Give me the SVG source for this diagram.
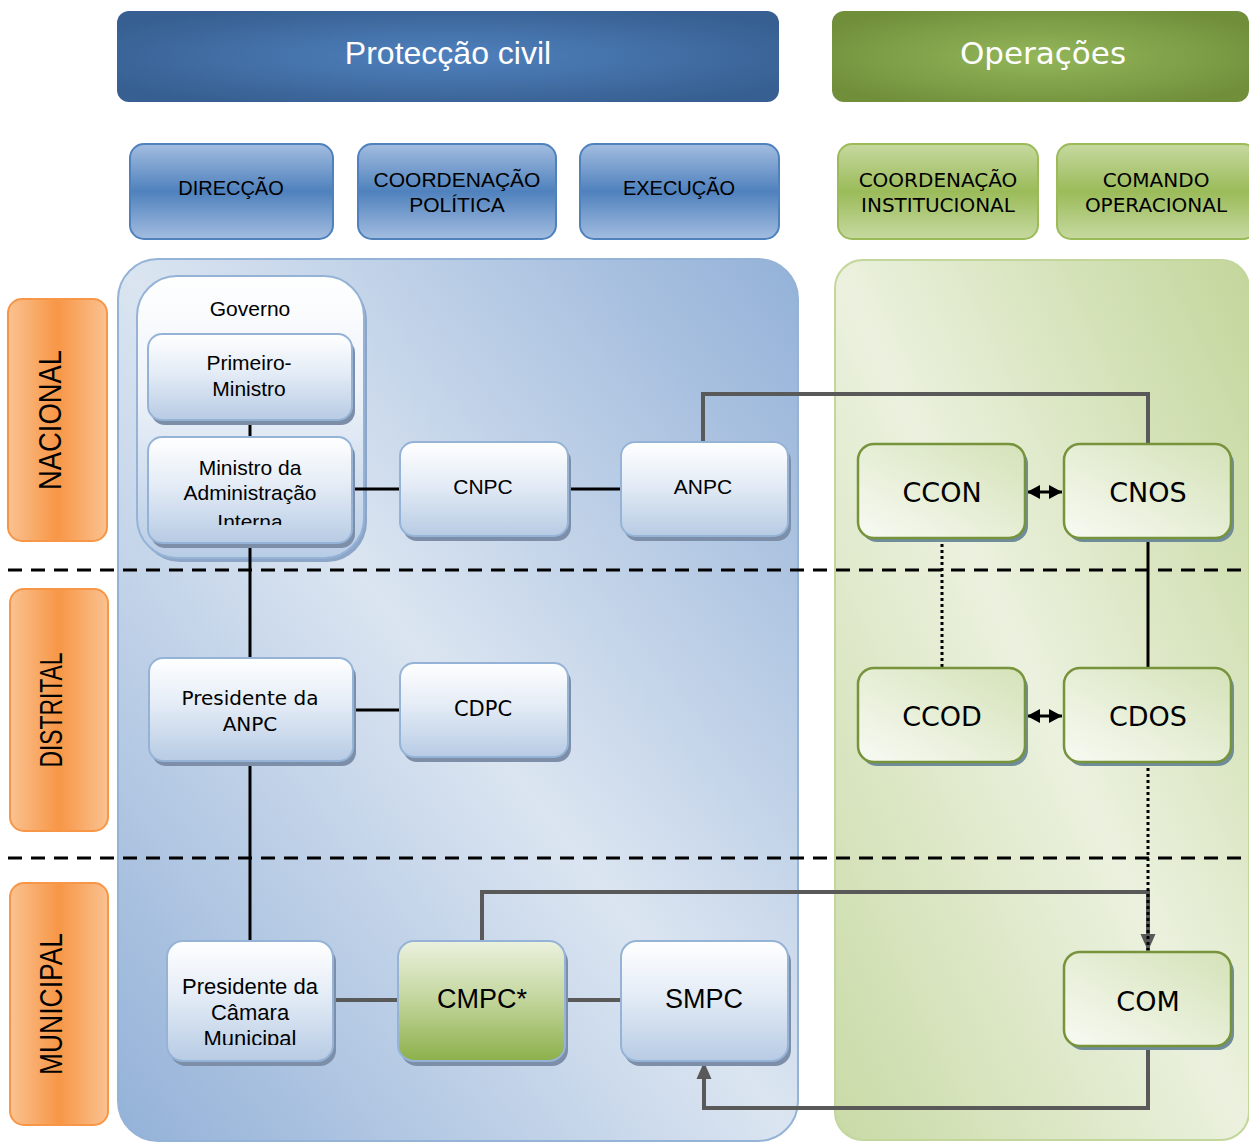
<svg xmlns="http://www.w3.org/2000/svg" width="1249" height="1142" viewBox="0 0 1249 1142">
<defs>
<radialGradient id="gHeadBlue" cx="0.5" cy="0.5" r="0.6">
<stop offset="0" stop-color="#4f81bd"/><stop offset="1" stop-color="#375f91"/>
</radialGradient>
<radialGradient id="gHeadGreen" cx="0.5" cy="0.5" r="0.6">
<stop offset="0" stop-color="#93b65a"/><stop offset="1" stop-color="#718f3b"/>
</radialGradient>
<linearGradient id="gSubBlue" x1="0" y1="0" x2="0" y2="1">
<stop offset="0" stop-color="#a3bde0"/><stop offset="0.5" stop-color="#4f81bd"/><stop offset="1" stop-color="#a3bde0"/>
</linearGradient>
<linearGradient id="gSubGreen" x1="0" y1="0" x2="0" y2="1">
<stop offset="0" stop-color="#c6d9a0"/><stop offset="0.5" stop-color="#9bbb59"/><stop offset="1" stop-color="#c6d9a0"/>
</linearGradient>
<linearGradient id="gOrange" x1="0" y1="0" x2="1" y2="0">
<stop offset="0" stop-color="#fac291"/><stop offset="0.5" stop-color="#f79646"/><stop offset="1" stop-color="#fac291"/>
</linearGradient>
<linearGradient id="gPanelBlue" x1="1" y1="0" x2="0" y2="1">
<stop offset="0" stop-color="#93b1d8"/><stop offset="0.5" stop-color="#dbe5f1"/><stop offset="1" stop-color="#93b1d8"/>
</linearGradient>
<linearGradient id="gPanelGreen" x1="1" y1="0" x2="0" y2="1">
<stop offset="0" stop-color="#c3d69b"/><stop offset="0.5" stop-color="#ebf1de"/><stop offset="1" stop-color="#c9daa6"/>
</linearGradient>
<linearGradient id="gNodeBlue" x1="0" y1="0" x2="0" y2="1">
<stop offset="0" stop-color="#ffffff"/><stop offset="0.45" stop-color="#e4ecf6"/><stop offset="1" stop-color="#b7cbe4"/>
</linearGradient>
<linearGradient id="gGov" x1="0" y1="0" x2="0" y2="1">
<stop offset="0" stop-color="#ffffff"/><stop offset="0.4" stop-color="#eef3f9"/><stop offset="1" stop-color="#b9cde6"/>
</linearGradient>
<linearGradient id="gNodeGreen" x1="0" y1="1" x2="1" y2="0">
<stop offset="0" stop-color="#f8faf3"/><stop offset="1" stop-color="#d4e2b8"/>
</linearGradient>
<linearGradient id="gCMPC" x1="0" y1="0" x2="0" y2="1">
<stop offset="0" stop-color="#ebf1de"/><stop offset="0.45" stop-color="#c6d8a2"/><stop offset="1" stop-color="#8db04b"/>
</linearGradient>
<marker id="arrGray" markerUnits="userSpaceOnUse" markerWidth="18" markerHeight="18" viewBox="0 0 18 18" refX="17" refY="9" orient="auto">
<path d="M0,1.5 L17,9 L0,16.5 Z" fill="#595959"/>
</marker>
<marker id="arrBlk" markerUnits="userSpaceOnUse" markerWidth="14" markerHeight="14" viewBox="0 0 14 14" refX="13" refY="7" orient="auto-start-reverse">
<path d="M0,0 L13,7 L0,14 Z" fill="#000"/>
</marker>
<clipPath id="clipMAI"><rect x="148" y="437" width="204" height="88"/></clipPath>
<clipPath id="clipPCM"><rect x="167" y="941" width="166" height="104"/></clipPath>
</defs>
<style>
.cond{font-family:"Liberation Sans",Arial,sans-serif;fill:#000;text-anchor:middle}
.geo{font-family:"DejaVu Sans","Liberation Sans",sans-serif;fill:#000;text-anchor:middle}
.sub-b{fill:url(#gSubBlue);stroke:#4f81bd;stroke-width:2}
.sub-g{fill:url(#gSubGreen);stroke:#9bbb59;stroke-width:2}
.lab{fill:url(#gOrange);stroke:#f79646;stroke-width:2}
.nb{fill:url(#gNodeBlue);stroke:#95b3d7;stroke-width:2}
.ng{fill:url(#gNodeGreen);stroke:#77933c;stroke-width:2.5}
.shb{fill:#7d8ea8}
.shg{fill:#6e8c99}
.blk{stroke:#000;stroke-width:3;fill:none}
.gry{stroke:#595959;stroke-width:4;fill:none}
.dot{stroke:#000;stroke-width:3;stroke-dasharray:3 3;fill:none}
.dash{stroke:#000;stroke-width:3;stroke-dasharray:14 9;fill:none}
</style>

<!-- Panels -->
<g id="panel-proteccao">
<rect x="118" y="259" width="680" height="882" rx="40" fill="url(#gPanelBlue)" stroke="#95b3d7" stroke-width="2"/>
</g>
<g id="panel-operacoes">
<rect x="835" y="260" width="414" height="880" rx="28" fill="url(#gPanelGreen)" stroke="#c3d69b" stroke-width="2"/>
</g>

<!-- Headers -->
<g id="hdr-proteccao">
<rect x="117" y="11" width="662" height="91" rx="12" fill="url(#gHeadBlue)"/>
<text class="cond" x="448" y="64" font-size="32" style="fill:#fff">Protecção civil</text>
</g>
<g id="hdr-operacoes">
<rect x="832" y="11" width="417" height="91" rx="12" fill="url(#gHeadGreen)"/>
<text class="geo" x="1043" y="64" font-size="31" style="fill:#fff">Operações</text>
</g>

<g id="sub-direccao">
<rect class="sub-b" x="130" y="144" width="203" height="95" rx="14"/>
<text class="cond" x="231" y="195" font-size="20">DIRECÇÃO</text>
</g>
<g id="sub-coordpol">
<rect class="sub-b" x="358" y="144" width="198" height="95" rx="14"/>
<text class="cond" x="457" y="187" font-size="21">COORDENAÇÃO</text>
<text class="cond" x="457" y="212" font-size="21">POLÍTICA</text>
</g>
<g id="sub-execucao">
<rect class="sub-b" x="580" y="144" width="199" height="95" rx="14"/>
<text class="cond" x="679" y="195" font-size="20">EXECUÇÃO</text>
</g>
<g id="sub-coordinst">
<rect class="sub-g" x="838" y="144" width="200" height="95" rx="14"/>
<text class="geo" x="938" y="187" font-size="20">COORDENAÇÃO</text>
<text class="geo" x="938" y="212" font-size="20">INSTITUCIONAL</text>
</g>
<g id="sub-comando">
<rect class="sub-g" x="1057" y="144" width="200" height="95" rx="14"/>
<text class="geo" x="1156" y="187" font-size="20">COMANDO</text>
<text class="geo" x="1156" y="212" font-size="20">OPERACIONAL</text>
</g>

<!-- Level labels -->
<g id="lab-nacional">
<rect class="lab" x="8" y="299" width="99" height="242" rx="14"/>
<text class="cond" transform="translate(61,420) rotate(-90)" font-size="31" textLength="140" lengthAdjust="spacingAndGlyphs">NACIONAL</text>
</g>
<g id="lab-distrital">
<rect class="lab" x="10" y="589" width="98" height="242" rx="14"/>
<text class="cond" transform="translate(62,710) rotate(-90)" font-size="31" textLength="115" lengthAdjust="spacingAndGlyphs">DISTRITAL</text>
</g>
<g id="lab-municipal">
<rect class="lab" x="10" y="883" width="98" height="242" rx="14"/>
<text class="cond" transform="translate(62,1004) rotate(-90)" font-size="31" textLength="142" lengthAdjust="spacingAndGlyphs">MUNICIPAL</text>
</g>

<!-- Dashed level separators -->
<g id="separators">
<line class="dash" x1="8" y1="570" x2="1249" y2="570"/>
<line class="dash" x1="8" y1="858" x2="1249" y2="858"/>
</g>

<!-- Governo container -->
<g id="governo">
<rect x="140" y="280" width="227" height="282" rx="40" fill="#8da5c6"/>
<rect x="137" y="276" width="227" height="282" rx="40" fill="url(#gGov)" stroke="#95b3d7" stroke-width="2"/>
<text class="cond" x="250" y="316" font-size="21">Governo</text>
</g>

<!-- Connectors -->
<g id="connectors">
<line class="blk" x1="250" y1="420" x2="250" y2="437"/>
<line class="blk" x1="250" y1="543" x2="250" y2="658"/>
<line class="blk" x1="250" y1="761" x2="250" y2="941"/>
<line class="blk" x1="352" y1="489" x2="400" y2="489"/>
<line class="blk" x1="568" y1="489" x2="621" y2="489"/>
<line class="blk" x1="353" y1="710" x2="400" y2="710"/>
<line class="gry" x1="333" y1="1000" x2="398" y2="1000"/>
<line class="gry" x1="565" y1="1000" x2="621" y2="1000"/>
<polyline class="gry" points="703,442 703,394 1148,394 1148,444"/>
<polyline class="gry" points="482,941 482,892 1148,892 1148,951" marker-end="url(#arrGray)"/>
<polyline class="gry" points="1148,1046 1148,1108 704,1108 704,1062" marker-end="url(#arrGray)"/>
<line class="dot" x1="942" y1="538" x2="942" y2="668"/>
<line class="blk" x1="1148" y1="538" x2="1148" y2="668"/>
<line class="dot" x1="1148" y1="762" x2="1148" y2="950" stroke-width="2.5"/>
<line class="blk" x1="1027" y1="492" x2="1062" y2="492" marker-start="url(#arrBlk)" marker-end="url(#arrBlk)"/>
<line class="blk" x1="1027" y1="716" x2="1062" y2="716" marker-start="url(#arrBlk)" marker-end="url(#arrBlk)"/>
</g>

<!-- Nodes -->
<g id="n-primeiro-ministro">
<rect class="shb" x="151" y="339" width="204" height="86" rx="14"/>
<rect class="nb" x="148" y="334" width="204" height="86" rx="14"/>
<text class="cond" x="249" y="370" font-size="21">Primeiro-</text>
<text class="cond" x="249" y="396" font-size="21">Ministro</text>
</g>
<g id="n-mai">
<rect class="shb" x="151" y="442" width="204" height="106" rx="14"/>
<rect class="nb" x="148" y="437" width="204" height="106" rx="14"/>
<g clip-path="url(#clipMAI)">
<text class="cond" x="250" y="475" font-size="21">Ministro da</text>
<text class="cond" x="250" y="500" font-size="21">Administração</text>
<text class="cond" x="250" y="529" font-size="21">Interna</text>
</g>
</g>
<g id="n-cnpc">
<rect class="shb" x="403" y="447" width="168" height="94" rx="14"/>
<rect class="nb" x="400" y="442" width="168" height="94" rx="14"/>
<text class="cond" x="483" y="494" font-size="21">CNPC</text>
</g>
<g id="n-anpc">
<rect class="shb" x="624" y="447" width="167" height="94" rx="14"/>
<rect class="nb" x="621" y="442" width="167" height="94" rx="14"/>
<text class="cond" x="703" y="494" font-size="21">ANPC</text>
</g>
<g id="n-pres-anpc">
<rect class="shb" x="152" y="663" width="204" height="103" rx="14"/>
<rect class="nb" x="149" y="658" width="204" height="103" rx="14"/>
<text class="geo" x="250" y="705" font-size="20">Presidente da</text>
<text class="geo" x="250" y="731" font-size="20">ANPC</text>
</g>
<g id="n-cdpc">
<rect class="shb" x="403" y="668" width="168" height="94" rx="14"/>
<rect class="nb" x="400" y="663" width="168" height="94" rx="14"/>
<text class="geo" x="483" y="716" font-size="21">CDPC</text>
</g>
<g id="n-pres-camara">
<rect class="shb" x="170" y="946" width="166" height="120" rx="16"/>
<rect class="nb" x="167" y="941" width="166" height="120" rx="16"/>
<g clip-path="url(#clipPCM)">
<text class="cond" x="250" y="994" font-size="22">Presidente da</text>
<text class="cond" x="250" y="1020" font-size="22">Câmara</text>
<text class="cond" x="250" y="1046" font-size="22">Municipal</text>
</g>
</g>
<g id="n-cmpc">
<rect class="shb" x="401" y="946" width="167" height="120" rx="16"/>
<rect x="398" y="941" width="167" height="120" rx="16" fill="url(#gCMPC)" stroke="#95b3d7" stroke-width="2"/>
<text class="cond" x="482" y="1008" font-size="27">CMPC*</text>
</g>
<g id="n-smpc">
<rect class="shb" x="624" y="946" width="167" height="120" rx="16"/>
<rect class="nb" x="621" y="941" width="167" height="120" rx="16"/>
<text class="cond" x="704" y="1008" font-size="27">SMPC</text>
</g>
<g id="n-ccon">
<rect class="shg" x="861" y="448" width="167" height="94" rx="16"/>
<rect class="ng" x="858" y="444" width="167" height="94" rx="16"/>
<text class="geo" x="942" y="502" font-size="27">CCON</text>
</g>
<g id="n-cnos">
<rect class="shg" x="1067" y="448" width="167" height="94" rx="16"/>
<rect class="ng" x="1064" y="444" width="167" height="94" rx="16"/>
<text class="geo" x="1148" y="502" font-size="27">CNOS</text>
</g>
<g id="n-ccod">
<rect class="shg" x="861" y="672" width="167" height="94" rx="16"/>
<rect class="ng" x="858" y="668" width="167" height="94" rx="16"/>
<text class="geo" x="942" y="726" font-size="27">CCOD</text>
</g>
<g id="n-cdos">
<rect class="shg" x="1067" y="672" width="167" height="94" rx="16"/>
<rect class="ng" x="1064" y="668" width="167" height="94" rx="16"/>
<text class="geo" x="1148" y="726" font-size="27">CDOS</text>
</g>
<g id="n-com">
<rect class="shg" x="1067" y="956" width="167" height="94" rx="16"/>
<rect class="ng" x="1064" y="952" width="167" height="94" rx="16"/>
<text class="geo" x="1148" y="1011" font-size="27">COM</text>
</g>
</svg>
